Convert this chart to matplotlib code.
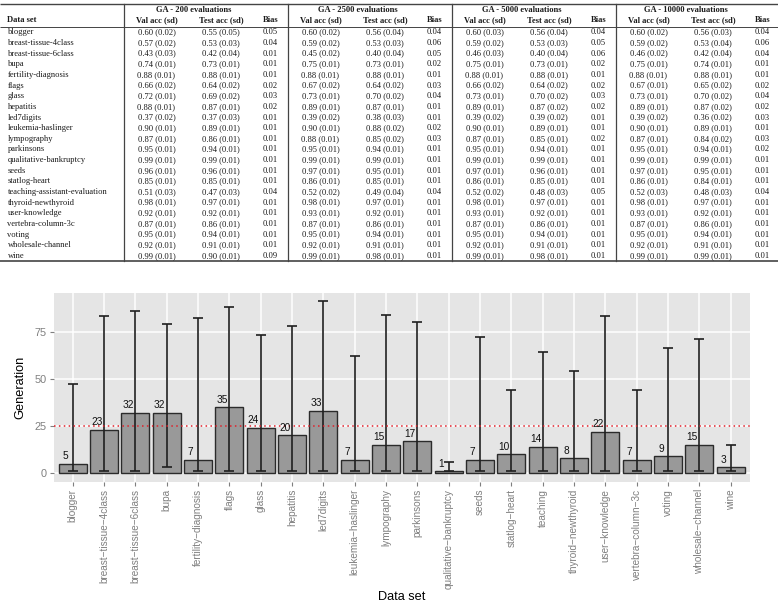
import numpy as np
import matplotlib
matplotlib.use("Agg")
import matplotlib.pyplot as plt

# ---------------- table data ----------------
datasets = ["blogger", "breast-tissue-4class", "breast-tissue-6class", "bupa",
            "fertility-diagnosis", "flags", "glass", "hepatitis", "led7digits",
            "leukemia-haslinger", "lympography", "parkinsons", "qualitative-bankruptcy",
            "seeds", "statlog-heart", "teaching-assistant-evaluation", "thyroid-newthyroid",
            "user-knowledge", "vertebra-column-3c", "voting", "wholesale-channel", "wine"]
group_titles = ["GA - 200 evaluations", "GA - 2500 evaluations",
                "GA - 5000 evaluations", "GA - 10000 evaluations"]
col_titles = ["Val acc (sd)", "Test acc (sd)", "Bias"]

val_200 = [0.60, 0.57, 0.43, 0.74, 0.88, 0.66, 0.72, 0.88, 0.37, 0.90, 0.87, 0.95, 0.99, 0.96, 0.85, 0.51, 0.98, 0.92, 0.87, 0.95, 0.92, 0.99]
val_sd_200 = [0.02, 0.02, 0.03, 0.01, 0.01, 0.02, 0.01, 0.01, 0.02, 0.01, 0.01, 0.01, 0.01, 0.01, 0.01, 0.03, 0.01, 0.01, 0.01, 0.01, 0.01, 0.01]
test_200 = [0.55, 0.53, 0.42, 0.73, 0.88, 0.64, 0.69, 0.87, 0.37, 0.89, 0.86, 0.94, 0.99, 0.96, 0.85, 0.47, 0.97, 0.92, 0.86, 0.94, 0.91, 0.90]
test_sd_200 = [0.05, 0.03, 0.04, 0.01, 0.01, 0.02, 0.02, 0.01, 0.03, 0.01, 0.01, 0.01, 0.01, 0.01, 0.01, 0.03, 0.01, 0.01, 0.01, 0.01, 0.01, 0.01]
bias_200 = [0.05, 0.04, 0.01, 0.01, 0.01, 0.02, 0.03, 0.02, 0.01, 0.01, 0.01, 0.01, 0.01, 0.01, 0.01, 0.04, 0.01, 0.01, 0.01, 0.01, 0.01, 0.09]

val_2500 = [0.60, 0.59, 0.45, 0.75, 0.88, 0.67, 0.73, 0.89, 0.39, 0.90, 0.88, 0.95, 0.99, 0.97, 0.86, 0.52, 0.98, 0.93, 0.87, 0.95, 0.92, 0.99]
val_sd_2500 = [0.02, 0.02, 0.02, 0.01, 0.01, 0.02, 0.01, 0.01, 0.02, 0.01, 0.01, 0.01, 0.01, 0.01, 0.01, 0.02, 0.01, 0.01, 0.01, 0.01, 0.01, 0.01]
test_2500 = [0.56, 0.53, 0.40, 0.73, 0.88, 0.64, 0.70, 0.87, 0.38, 0.88, 0.85, 0.94, 0.99, 0.95, 0.85, 0.49, 0.97, 0.92, 0.86, 0.94, 0.91, 0.98]
test_sd_2500 = [0.04, 0.03, 0.04, 0.01, 0.01, 0.02, 0.02, 0.01, 0.03, 0.02, 0.02, 0.01, 0.01, 0.01, 0.01, 0.04, 0.01, 0.01, 0.01, 0.01, 0.01, 0.01]
bias_2500 = [0.04, 0.06, 0.05, 0.02, 0.01, 0.03, 0.04, 0.01, 0.01, 0.02, 0.03, 0.01, 0.01, 0.01, 0.01, 0.04, 0.01, 0.01, 0.01, 0.01, 0.01, 0.01]

val_5000 = [0.60, 0.59, 0.46, 0.75, 0.88, 0.66, 0.73, 0.89, 0.39, 0.90, 0.87, 0.95, 0.99, 0.97, 0.86, 0.52, 0.98, 0.93, 0.87, 0.95, 0.92, 0.99]
val_sd_5000 = [0.03, 0.02, 0.03, 0.01, 0.01, 0.02, 0.01, 0.01, 0.02, 0.01, 0.01, 0.01, 0.01, 0.01, 0.01, 0.02, 0.01, 0.01, 0.01, 0.01, 0.01, 0.01]
test_5000 = [0.56, 0.53, 0.40, 0.73, 0.88, 0.64, 0.70, 0.87, 0.39, 0.89, 0.85, 0.94, 0.99, 0.96, 0.85, 0.48, 0.97, 0.92, 0.86, 0.94, 0.91, 0.98]
test_sd_5000 = [0.04, 0.03, 0.04, 0.01, 0.01, 0.02, 0.02, 0.02, 0.02, 0.01, 0.01, 0.01, 0.01, 0.01, 0.01, 0.03, 0.01, 0.01, 0.01, 0.01, 0.01, 0.01]
bias_5000 = [0.04, 0.05, 0.06, 0.02, 0.01, 0.02, 0.03, 0.02, 0.01, 0.01, 0.02, 0.01, 0.01, 0.01, 0.01, 0.05, 0.01, 0.01, 0.01, 0.01, 0.01, 0.01]

val_10000 = [0.60, 0.59, 0.46, 0.75, 0.88, 0.67, 0.73, 0.89, 0.39, 0.90, 0.87, 0.95, 0.99, 0.97, 0.86, 0.52, 0.98, 0.93, 0.87, 0.95, 0.92, 0.99]
val_sd_10000 = [0.02, 0.02, 0.02, 0.01, 0.01, 0.01, 0.01, 0.01, 0.02, 0.01, 0.01, 0.01, 0.01, 0.01, 0.01, 0.03, 0.01, 0.01, 0.01, 0.01, 0.01, 0.01]
test_10000 = [0.56, 0.53, 0.42, 0.74, 0.88, 0.65, 0.70, 0.87, 0.36, 0.89, 0.84, 0.94, 0.99, 0.95, 0.84, 0.48, 0.97, 0.92, 0.86, 0.94, 0.91, 0.99]
test_sd_10000 = [0.03, 0.04, 0.04, 0.01, 0.01, 0.02, 0.02, 0.02, 0.02, 0.01, 0.02, 0.01, 0.01, 0.01, 0.01, 0.03, 0.01, 0.01, 0.01, 0.01, 0.01, 0.01]
bias_10000 = [0.04, 0.06, 0.04, 0.01, 0.01, 0.02, 0.04, 0.02, 0.03, 0.01, 0.03, 0.02, 0.01, 0.01, 0.01, 0.04, 0.01, 0.01, 0.01, 0.01, 0.01, 0.01]

# ---------------- chart data ----------------
chart_labels = ["blogger", "breast\u2212tissue\u22124class", "breast\u2212tissue\u22126class", "bupa",
                "fertility\u2212diagnosis", "flags", "glass", "hepatitis", "led7digits",
                "leukemia\u2212haslinger", "lympography", "parkinsons", "qualitative\u2212bankruptcy",
                "seeds", "statlog\u2212heart", "teaching", "thyroid\u2212newthyroid",
                "user\u2212knowledge", "vertebra\u2212column\u22123c", "voting",
                "wholesale\u2212channel", "wine"]
generation = [5, 23, 32, 32, 7, 35, 24, 20, 33, 7, 15, 17, 1, 7, 10, 14, 8, 22, 7, 9, 15, 3]
gen_low = [1, 1, 1, 3, 1, 1, 1, 1, 1, 1, 1, 1, 1, 1, 1, 1, 1, 1, 1, 1, 1, 1]
gen_high = [47, 83, 86, 79, 82, 88, 73, 78, 91, 62, 84, 80, 6, 72, 44, 64, 54, 83, 44, 66, 71, 15]
ref_line = 25
y_ticks = [0, 25, 50, 75]

W, H = 778, 604
fig = plt.figure(figsize=(W / 100, H / 100), dpi=100)

# ---------------- table (pixel coordinate overlay) ----------------
tab = fig.add_axes([0, 0, 1, 1])
tab.set_xlim(0, W)
tab.set_ylim(H, 0)
tab.axis("off")

serif = "Liberation Serif"
fs = 6.1
tcol = "#1a1a1a"
groups = [(val_200, val_sd_200, test_200, test_sd_200, bias_200),
          (val_2500, val_sd_2500, test_2500, test_sd_2500, bias_2500),
          (val_5000, val_sd_5000, test_5000, test_sd_5000, bias_5000),
          (val_10000, val_sd_10000, test_10000, test_sd_10000, bias_10000)]
block_left = [124, 288, 452, 616]
block_w = 164
col_off = [32.5, 97, 146.5]

y_top, y_h1, y_h2, y_mid = 3.5, 9.5, 20.5, 26.7
row0, dy = 32.4, 10.64
y_bot = row0 + dy * (len(datasets) - 1) + 5.2

for yy, lw in [(y_top, 1.0), (y_mid, 0.7), (y_bot, 1.2)]:
    tab.plot([0, W], [yy, yy], color="#444444", lw=lw, solid_capstyle="butt")
for xl in block_left:
    tab.plot([xl, xl], [y_top, y_bot], color="#444444", lw=0.9)

tab.text(7.5, y_h2, "Data set", fontsize=fs, fontweight="bold", family=serif,
         ha="left", va="center", color=tcol)
for g, xl in enumerate(block_left):
    tab.text(xl + block_w / 2 - 12, y_h1, group_titles[g], fontsize=fs, fontweight="bold",
             family=serif, ha="center", va="center", color=tcol)
    for c, t in enumerate(col_titles):
        tab.text(xl + col_off[c], y_h2, t, fontsize=fs, fontweight="bold", family=serif,
                 ha="center", va="center", color=tcol)

for i, name in enumerate(datasets):
    yy = row0 + i * dy
    tab.text(7.5, yy, name, fontsize=fs, family=serif, ha="left", va="center", color=tcol)
    for g, xl in enumerate(block_left):
        va, vs, te, ts, bi = groups[g]
        tab.text(xl + col_off[0], yy, f"{va[i]:.2f} ({vs[i]:.2f})", fontsize=fs, family=serif,
                 ha="center", va="center", color=tcol)
        tab.text(xl + col_off[1], yy, f"{te[i]:.2f} ({ts[i]:.2f})", fontsize=fs, family=serif,
                 ha="center", va="center", color=tcol)
        tab.text(xl + col_off[2], yy, f"{bi[i]:.2f}", fontsize=fs, family=serif,
                 ha="center", va="center", color=tcol)

# ---------------- bar chart ----------------
sans = "Liberation Sans"
pl, pr, pt, pb = 53.9, 749.5, 292.7, 481.7
ax = fig.add_axes([pl / W, (H - pb) / H, (pr - pl) / W, (pb - pt) / H])
ax.set_facecolor("#E5E5E5")
for s in ax.spines.values():
    s.set_visible(False)

x = np.arange(len(chart_labels))
gen = np.array(generation)
ax.set_axisbelow(True)
ax.grid(True, color="white", lw=1.1)
ax.bar(x, gen, width=0.9, color="#999999", edgecolor="#2b2b2b", linewidth=1.0, zorder=2)
ax.errorbar(x, gen, yerr=[gen - np.array(gen_low), np.array(gen_high) - gen], fmt="none",
            ecolor="#1f1f1f", elinewidth=1.2, capsize=3.3, capthick=1.2, zorder=3)
ax.axhline(ref_line, color="#e0202a", lw=1.1, ls=(0, (1, 2.2)), zorder=4)
for xi, v in zip(x, generation):
    ax.annotate(str(v), (xi - 0.23, v), xytext=(0, 1.8), textcoords="offset points",
                ha="center", va="bottom", fontsize=7.3, family=sans, color="#111111", zorder=5)

ax.set_xlim(-0.6, len(chart_labels) - 0.4)
ax.set_ylim(-4.55, 95.55)
ax.set_yticks(y_ticks)
ax.set_yticklabels([str(t) for t in y_ticks], fontsize=7.8, family=sans, color="#7F7F7F")
ax.set_xticks(x)
ax.set_xticklabels(chart_labels, rotation=90, fontsize=7.2, family=sans, color="#7F7F7F")
ax.tick_params(axis="both", length=3.2, width=0.8, color="#7F7F7F", pad=2)
ax.set_ylabel("Generation", fontsize=9.2, family=sans, color="black", labelpad=6)

fig.text((pl + pr) / 2 / W, (H - 597.5) / H, "Data set", fontsize=9.2, family=sans,
         ha="center", va="center", color="black")

fig.savefig("out.png", dpi=100)
